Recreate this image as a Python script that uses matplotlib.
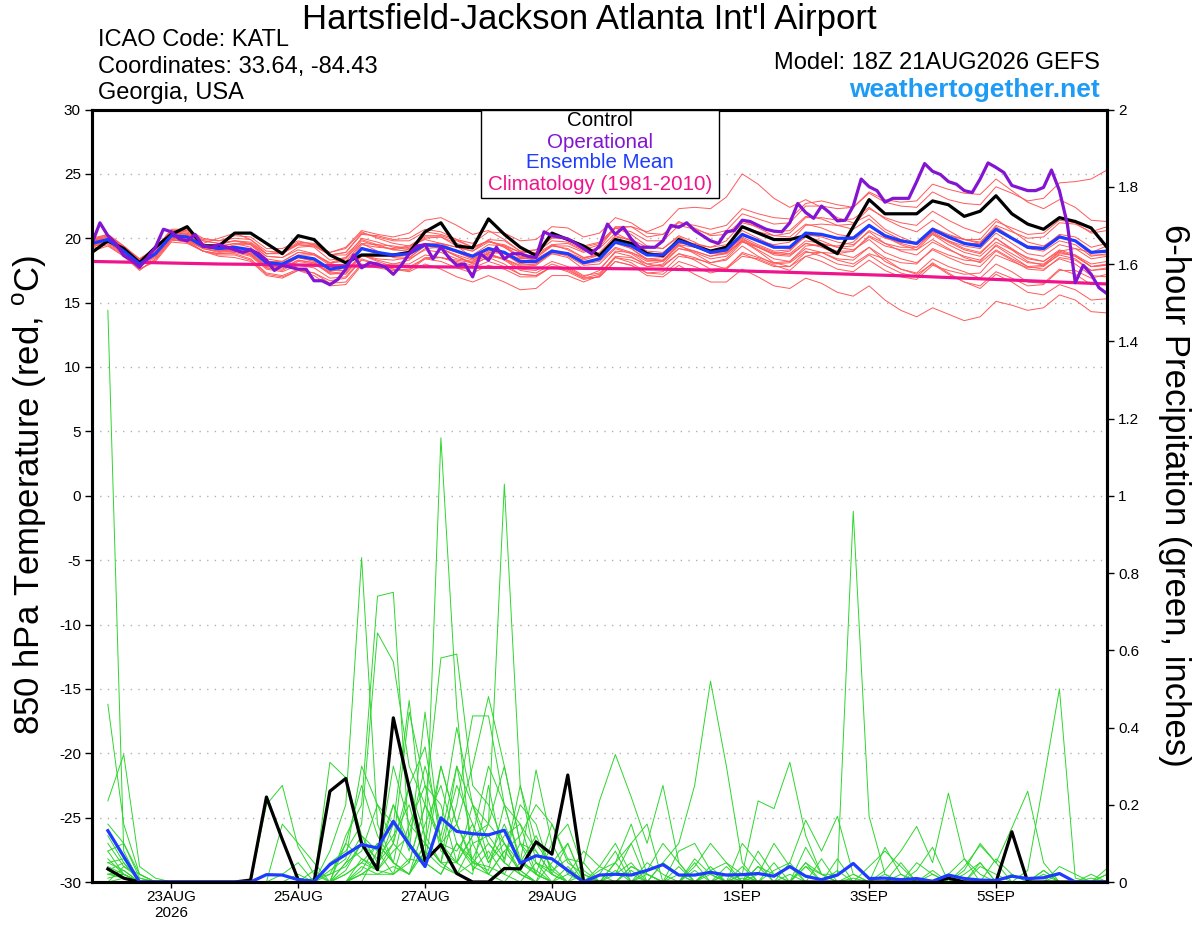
import matplotlib
matplotlib.use('Agg')
import matplotlib.pyplot as plt
from matplotlib.patches import Rectangle

plt.rcParams['font.family'] = ['Liberation Sans', 'DejaVu Sans']

# ---------------- data ----------------
hours6 = list(range(0, 385, 6))        # 6-hourly temperature steps
hours3 = list(range(0, 385, 3))        # 3-hourly operational steps
precip_hours = list(range(6, 385, 6))  # 6-hour precipitation periods
clim_hours = list(range(0, 385, 24))

date_ticks = [30, 78, 126, 174, 246, 294, 342]
date_labels = ['23AUG\n2026', '25AUG', '27AUG', '29AUG', '1SEP', '3SEP', '5SEP']

control_t = [18.9, 19.8, 19.2, 18.1, 19.3, 20.3, 20.9, 19.4, 19.4, 20.4, 20.4, 19.6, 18.8, 20.2, 19.9, 18.7,
             18.1, 18.7, 18.7, 18.7, 18.9, 20.5, 21.2, 19.4, 19.25, 21.5, 20.3, 19.3, 18.65, 20.4, 19.9, 19.4,
             18.65, 19.9, 19.6, 18.8, 18.65, 19.9, 19.4, 19.0, 19.3, 20.9, 20.4, 19.9, 19.9, 20.2, 19.5, 18.8,
             20.9, 23.0, 21.9, 21.9, 21.9, 22.9, 22.6, 21.7, 22.1, 23.3, 21.9, 21.1, 20.7, 21.6, 21.3, 20.8, 19.3]

mean_t = [19.6, 19.9, 19.0, 18.0, 18.8, 20.2, 20.1, 19.4, 19.2, 19.3, 19.1, 18.1, 18.0, 18.6, 18.4, 17.6,
          17.8, 19.2, 18.9, 18.7, 18.8, 19.5, 19.4, 19.0, 18.6, 19.2, 18.9, 18.2, 18.2, 19.0, 18.8, 18.1,
          18.4, 19.7, 19.4, 18.7, 18.7, 19.8, 19.4, 18.9, 19.1, 20.3, 19.8, 19.3, 19.3, 20.4, 20.3, 20.0,
          20.0, 21.0, 20.2, 19.8, 19.6, 20.7, 20.1, 19.6, 19.4, 20.7, 20.0, 19.3, 19.2, 20.1, 19.8, 18.9, 19.0]

oper_t = [19.6, 21.2, 20.2, 19.6, 18.65, 18.3, 17.75, 18.5, 19.3, 20.7, 20.5, 19.95, 19.8, 20.3, 19.4, 19.3,
          19.5, 19.3, 19.1, 18.9, 19.1, 18.8, 18.3, 17.5, 17.9, 17.75, 17.6, 17.6, 16.7, 16.7, 16.4, 16.8,
          17.6, 18.7, 17.7, 18.1, 18.0, 17.75, 17.2, 17.9, 18.8, 19.4, 19.5, 18.4, 19.3, 18.5, 17.9, 18.0,
          17.0, 18.8, 18.3, 19.3, 18.4, 18.8, 18.8, 18.6, 18.5, 20.5, 20.2, 20.1, 19.95, 19.6, 19.2, 18.8,
          19.4, 21.1, 20.3, 20.85, 19.95, 19.3, 19.3, 19.3, 19.8, 21.0, 20.85, 21.2, 20.6, 20.2, 19.8, 19.6,
          20.5, 20.6, 21.4, 21.3, 21.0, 20.7, 20.55, 20.5, 21.2, 22.7, 22.0, 21.55, 22.5, 22.0, 21.35, 21.4,
          22.5, 24.6, 24.0, 23.7, 22.8, 23.1, 23.1, 23.1, 24.4, 25.8, 25.2, 24.95, 24.4, 24.2, 23.7, 23.55,
          24.6, 25.85, 25.5, 25.1, 24.1, 23.9, 23.7, 23.7, 23.95, 25.3, 23.7, 21.1, 16.55, 17.9, 17.2, 16.15,
          15.7]

clim_t = [18.2, 18.1, 18.0, 17.95, 17.85, 17.8, 17.75, 17.7, 17.65, 17.6, 17.5, 17.35, 17.2, 17.05,
          16.85, 16.65, 16.45]

T01 = [19.9, 20.3, 19.4, 18.3, 19.0, 20.5, 20.4, 19.6, 20.0, 20.4, 19.9, 18.8, 18.9, 19.5, 19.3, 18.3,
       18.5, 19.6, 19.5, 19.4, 19.2, 20.0, 20.1, 19.4, 18.5, 19.3, 18.8, 18.0, 18.3, 18.8, 18.5, 17.6,
       17.6, 18.9, 18.6, 17.8, 17.9, 18.8, 18.5, 18.0, 17.6, 18.6, 18.4, 17.9, 17.5, 18.6, 18.9, 18.3,
       18.0, 18.8, 18.4, 17.6, 17.3, 18.4, 17.8, 17.4, 16.9, 18.0, 17.4, 16.6, 16.5, 17.6, 17.2, 16.4, 16.5]
T02 = [19.3, 19.7, 18.9, 17.9, 18.6, 20.1, 20.3, 19.6, 19.0, 19.2, 18.8, 17.7, 17.5, 18.2, 18.0, 17.3,
       17.2, 18.6, 18.6, 18.6, 18.5, 19.4, 19.6, 19.3, 19.0, 19.9, 19.8, 19.0, 19.1, 20.1, 19.9, 19.3,
       19.6, 20.9, 20.9, 20.1, 20.3, 21.2, 21.0, 20.7, 21.0, 22.3, 21.9, 21.6, 21.5, 22.7, 22.9, 22.6,
       22.4, 23.5, 22.8, 22.5, 22.4, 23.6, 23.0, 22.7, 22.6, 24.0, 23.5, 22.9, 23.1, 24.3, 24.4, 24.6, 25.3]
T03 = [19.0, 19.4, 18.6, 17.6, 18.2, 19.7, 19.6, 19.0, 18.6, 18.5, 18.2, 17.1, 16.9, 17.5, 17.3, 16.7,
       16.9, 18.3, 18.0, 17.6, 17.5, 18.4, 18.5, 18.3, 18.1, 18.9, 18.8, 18.4, 18.6, 19.5, 19.6, 19.0,
       19.2, 20.4, 19.8, 18.9, 18.6, 19.5, 18.8, 18.1, 18.3, 19.4, 18.6, 18.0, 18.1, 19.0, 18.6, 18.0,
       17.8, 18.7, 17.9, 17.3, 17.0, 18.1, 17.3, 16.6, 16.1, 17.2, 16.6, 15.8, 15.6, 16.4, 16.0, 15.2, 15.3]
T04 = [19.8, 20.1, 19.2, 18.2, 19.1, 20.5, 20.3, 19.5, 19.5, 19.8, 19.6, 18.6, 18.5, 19.1, 18.8, 18.0,
       18.4, 19.8, 19.4, 19.1, 19.3, 20.1, 20.1, 19.6, 19.2, 19.8, 19.4, 18.6, 18.5, 19.4, 19.4, 18.9,
       19.3, 20.8, 20.9, 20.5, 21.0, 22.3, 22.4, 22.3, 23.2, 25.0, 24.2, 23.1, 22.4, 23.0, 22.4, 21.6,
       21.2, 21.8, 20.7, 20.1, 19.6, 20.3, 19.5, 18.9, 18.6, 19.7, 19.1, 18.5, 18.2, 19.0, 18.6, 17.8, 17.9]
T05 = [19.5, 19.7, 18.8, 17.8, 18.5, 19.9, 19.8, 19.2, 19.0, 19.0, 18.7, 17.8, 17.7, 18.3, 18.1, 17.2,
       17.3, 18.7, 18.3, 18.0, 18.0, 18.7, 18.5, 18.1, 17.7, 18.2, 17.8, 17.2, 17.1, 17.8, 17.4, 16.8,
       17.0, 18.2, 17.9, 17.1, 17.0, 17.9, 17.2, 16.6, 16.6, 17.6, 17.0, 16.3, 16.1, 16.9, 16.5, 15.8,
       15.5, 16.3, 15.2, 14.4, 13.9, 14.6, 14.1, 13.6, 13.9, 15.1, 14.8, 14.4, 14.6, 15.6, 15.2, 14.3, 14.2]
T06 = [19.7, 20.0, 19.3, 18.4, 19.2, 20.6, 20.6, 19.9, 19.8, 20.2, 20.1, 19.2, 19.2, 19.8, 19.5, 18.7,
       18.7, 19.9, 19.5, 19.1, 19.0, 19.6, 19.2, 18.6, 18.0, 18.5, 18.0, 17.2, 17.1, 17.8, 17.5, 16.9,
       17.2, 18.6, 18.5, 18.0, 18.2, 19.5, 19.3, 19.0, 19.4, 20.8, 20.5, 20.2, 20.4, 21.6, 21.6, 21.4,
       21.5, 22.4, 21.5, 20.9, 20.5, 21.4, 20.6, 19.9, 19.6, 20.8, 20.0, 19.2, 19.0, 19.8, 19.5, 18.6, 18.8]
T07 = [19.4, 19.6, 18.7, 17.6, 18.3, 19.8, 19.9, 19.3, 19.1, 19.5, 19.5, 18.6, 18.5, 19.3, 19.4, 18.7,
       18.9, 20.3, 20.2, 19.9, 20.0, 20.7, 20.5, 19.9, 19.3, 19.8, 19.3, 18.5, 18.3, 19.0, 18.6, 17.9,
       18.0, 19.2, 18.8, 18.0, 17.8, 18.8, 18.3, 17.6, 17.7, 18.8, 18.3, 17.8, 17.8, 18.9, 18.9, 18.8,
       19.0, 20.2, 19.6, 19.3, 19.3, 20.5, 20.2, 19.9, 19.9, 21.3, 20.8, 20.3, 20.4, 21.4, 21.2, 20.4, 20.6]
T08 = [19.6, 19.8, 18.9, 17.9, 18.9, 20.4, 20.3, 19.5, 19.1, 19.1, 18.8, 17.8, 17.8, 18.5, 18.3, 17.5,
       17.5, 18.7, 18.2, 17.8, 17.8, 18.4, 18.2, 17.7, 17.3, 17.9, 17.6, 17.0, 17.0, 17.8, 17.7, 17.0,
       17.5, 19.0, 18.9, 18.4, 18.5, 19.7, 19.6, 19.3, 19.5, 20.6, 20.0, 19.4, 19.2, 20.1, 19.8, 19.3,
       19.1, 19.9, 18.9, 18.4, 18.1, 19.1, 18.5, 18.0, 17.8, 19.0, 18.3, 17.6, 17.5, 18.5, 18.3, 17.5, 17.7]
T09 = [19.9, 20.2, 19.3, 18.3, 19.1, 20.6, 20.5, 19.8, 19.6, 19.8, 19.7, 18.8, 18.8, 19.5, 19.4, 18.7,
       18.9, 20.4, 20.1, 19.8, 19.8, 20.5, 20.3, 19.9, 19.6, 20.5, 20.4, 19.8, 19.9, 20.9, 20.8, 20.1,
       20.4, 21.6, 21.2, 20.4, 20.3, 21.3, 20.8, 20.2, 20.3, 21.4, 20.8, 20.2, 20.1, 21.1, 20.8, 20.3,
       20.1, 21.0, 20.1, 19.6, 19.3, 20.4, 19.7, 19.1, 18.8, 20.0, 19.2, 18.4, 18.2, 19.1, 18.7, 17.8, 18.0]
T10 = [19.2, 19.5, 18.6, 17.5, 18.4, 19.9, 19.7, 19.0, 18.8, 18.8, 18.4, 17.3, 17.1, 17.6, 17.3, 16.5,
       16.6, 18.0, 17.7, 17.5, 17.6, 18.5, 18.5, 18.2, 17.9, 18.6, 18.4, 17.8, 17.9, 18.8, 18.7, 18.1,
       18.4, 19.6, 19.2, 18.4, 18.3, 19.4, 19.0, 18.6, 18.9, 20.2, 19.8, 19.5, 19.7, 21.0, 21.1, 21.0,
       21.1, 22.3, 21.6, 21.2, 21.0, 22.1, 21.4, 20.8, 20.4, 21.5, 20.6, 19.7, 19.4, 20.2, 19.8, 18.7, 18.7]
T11 = [19.6, 20.0, 19.1, 18.0, 18.7, 20.0, 19.9, 19.3, 19.3, 19.6, 19.6, 18.8, 18.9, 19.7, 19.6, 18.9,
       19.2, 20.5, 20.0, 19.6, 19.4, 19.9, 19.6, 19.0, 18.4, 18.8, 18.3, 17.5, 17.3, 18.0, 17.6, 16.9,
       17.0, 18.2, 17.9, 17.3, 17.4, 18.6, 18.4, 18.1, 18.4, 19.7, 19.3, 18.8, 18.7, 19.6, 19.3, 18.8,
       18.5, 19.3, 18.2, 17.6, 17.2, 18.0, 17.2, 16.6, 16.3, 17.4, 16.9, 16.3, 16.4, 17.5, 17.5, 16.9, 17.2]
T12 = [19.8, 19.9, 18.9, 17.9, 18.9, 20.4, 20.2, 19.4, 19.2, 19.2, 18.9, 17.9, 17.8, 18.5, 18.3, 17.6,
       18.0, 19.5, 19.3, 19.2, 19.4, 20.2, 20.2, 19.8, 19.3, 19.8, 19.3, 18.5, 18.4, 19.1, 18.8, 18.0,
       18.2, 19.3, 18.9, 18.2, 18.3, 19.6, 19.5, 19.3, 19.8, 21.2, 20.9, 20.5, 20.6, 21.7, 21.5, 21.0,
       20.7, 21.5, 20.5, 19.9, 19.6, 20.6, 20.0, 19.6, 19.6, 21.0, 20.5, 20.0, 20.1, 21.2, 21.1, 20.5, 20.9]
T13 = [19.3, 19.8, 19.0, 18.1, 18.8, 20.1, 19.8, 19.0, 18.7, 18.7, 18.3, 17.2, 17.0, 17.5, 17.1, 16.3,
       16.4, 17.9, 17.9, 18.0, 18.3, 19.2, 19.3, 19.0, 18.7, 19.5, 19.4, 18.9, 19.1, 20.0, 20.0, 19.4,
       19.7, 20.8, 20.3, 19.4, 19.2, 20.1, 19.5, 18.8, 18.8, 19.8, 19.1, 18.4, 18.2, 19.2, 18.9, 18.4,
       18.3, 19.3, 18.5, 18.1, 18.0, 19.2, 18.7, 18.3, 18.2, 19.5, 18.8, 18.1, 18.0, 18.9, 18.6, 17.8, 17.9]
T14 = [19.5, 19.8, 19.0, 18.0, 18.6, 19.9, 19.7, 19.0, 18.8, 18.9, 18.6, 17.6, 17.4, 17.9, 17.7, 16.9,
       17.0, 18.4, 18.0, 17.6, 17.4, 18.0, 17.6, 17.0, 16.6, 17.1, 16.6, 16.0, 16.1, 17.1, 17.1, 16.6,
       17.1, 18.5, 18.3, 17.8, 18.0, 19.2, 19.0, 18.6, 18.8, 19.9, 19.4, 18.9, 18.8, 19.8, 19.6, 19.3,
       19.4, 20.6, 20.0, 19.7, 19.6, 20.8, 20.3, 19.9, 19.7, 20.9, 20.1, 19.4, 19.3, 20.3, 20.1, 19.3, 19.6]
T15 = [20.0, 20.3, 19.4, 18.4, 19.2, 20.7, 20.7, 20.0, 19.8, 20.0, 19.9, 19.0, 18.9, 19.6, 19.5, 18.9,
       19.3, 20.6, 20.3, 20.1, 20.4, 21.4, 21.6, 21.0, 20.3, 20.6, 19.9, 19.0, 18.8, 19.5, 19.1, 18.5,
       18.7, 19.9, 19.5, 18.8, 18.8, 19.9, 19.5, 19.0, 19.0, 20.0, 19.3, 18.7, 18.6, 19.6, 19.4, 19.0,
       19.0, 20.1, 19.4, 19.1, 19.1, 20.3, 19.8, 19.4, 19.2, 20.4, 19.6, 18.8, 18.6, 19.5, 19.2, 18.4, 18.6]
T16 = [19.7, 20.1, 19.1, 18.1, 18.9, 20.3, 20.0, 19.2, 18.9, 19.0, 18.7, 17.7, 17.6, 18.3, 18.1, 17.4,
       17.7, 19.2, 18.9, 18.7, 18.8, 19.6, 19.6, 19.3, 19.0, 19.7, 19.5, 18.9, 18.9, 19.8, 19.7, 19.1,
       19.5, 20.8, 20.5, 19.8, 19.8, 21.0, 20.7, 20.3, 20.6, 21.9, 21.5, 21.1, 21.2, 22.5, 22.5, 22.3,
       22.4, 23.6, 23.0, 22.8, 22.9, 24.2, 23.8, 23.5, 23.4, 24.6, 23.7, 22.8, 22.3, 23.0, 22.4, 21.4, 21.3]
T17 = [19.4, 19.9, 19.1, 18.1, 18.7, 20.0, 19.9, 19.2, 19.0, 19.1, 18.8, 17.8, 17.9, 18.7, 18.7, 18.1,
       18.5, 20.0, 19.7, 19.3, 19.1, 19.6, 19.2, 18.6, 18.1, 18.7, 18.4, 17.9, 18.0, 18.9, 18.8, 18.3,
       18.7, 20.1, 19.9, 19.3, 19.2, 20.2, 19.7, 19.0, 18.9, 19.8, 19.0, 18.1, 17.8, 18.6, 18.2, 17.6,
       17.4, 18.3, 17.5, 17.0, 16.8, 17.9, 17.5, 17.2, 17.3, 18.7, 18.2, 17.7, 17.8, 18.8, 18.7, 18.0, 18.2]
T18 = [19.8, 20.2, 19.2, 18.1, 18.8, 20.1, 20.0, 19.4, 19.2, 19.3, 19.1, 18.2, 18.2, 18.9, 18.7, 17.9,
       18.0, 19.3, 18.9, 18.6, 18.7, 19.4, 19.2, 18.7, 18.3, 18.8, 18.4, 17.6, 17.5, 18.2, 17.8, 17.1,
       17.3, 18.5, 18.1, 17.3, 17.2, 18.2, 17.8, 17.3, 17.6, 18.9, 18.5, 18.1, 18.2, 19.4, 19.5, 19.4,
       19.7, 20.9, 20.2, 19.8, 19.5, 20.5, 19.8, 19.2, 18.9, 20.0, 19.1, 18.2, 17.9, 18.7, 18.4, 17.5, 17.6]
T19 = [19.5, 19.8, 19.0, 18.0, 18.9, 20.3, 20.1, 19.4, 19.4, 19.6, 19.3, 18.2, 18.0, 18.5, 18.2, 17.3,
       17.4, 18.7, 18.4, 18.3, 18.5, 19.4, 19.3, 18.9, 18.4, 19.1, 18.8, 18.0, 18.0, 18.9, 18.9, 18.4,
       18.9, 20.2, 19.8, 19.0, 18.9, 19.9, 19.4, 18.8, 19.0, 20.1, 19.5, 19.0, 19.1, 20.3, 20.1, 19.7,
       19.5, 20.5, 19.6, 19.0, 18.7, 19.7, 19.1, 18.6, 18.3, 19.4, 18.6, 17.8, 17.6, 18.4, 18.0, 17.1, 17.0]
T20 = [19.6, 19.7, 18.8, 17.8, 18.7, 20.3, 20.4, 19.8, 19.6, 19.8, 19.5, 18.4, 18.2, 18.9, 18.8, 18.1,
       18.2, 19.6, 19.0, 18.5, 18.4, 19.1, 18.9, 18.4, 18.2, 19.0, 18.9, 18.4, 18.5, 19.4, 19.2, 18.5,
       18.7, 19.8, 19.2, 18.3, 18.2, 19.2, 18.9, 18.4, 18.6, 19.8, 19.3, 18.8, 19.0, 20.2, 20.2, 20.0,
       20.0, 21.0, 20.1, 19.5, 19.1, 19.9, 19.2, 18.5, 18.1, 19.1, 18.4, 17.8, 17.9, 19.0, 19.2, 18.9, 19.4]

control_p = [0.034, 0.01, 0, 0, 0, 0, 0, 0, 0, 0.005, 0.22, 0.11, 0.006, 0, 0.235, 0.268,
             0.10, 0.032, 0.425, 0.243, 0.055, 0.097, 0.022, 0, 0, 0.035, 0.034, 0.104, 0.072, 0.277, 0, 0,
             0, 0, 0, 0, 0, 0, 0, 0, 0, 0, 0, 0, 0, 0, 0, 0,
             0, 0, 0, 0, 0, 0.01, 0, 0, 0, 0.13, 0, 0, 0, 0, 0, 0]

mean_p = [0.133, 0.066, 0, 0, 0, 0, 0, 0, 0, 0, 0.019, 0.018, 0.006, 0.002, 0.045, 0.071,
          0.097, 0.088, 0.157, 0.097, 0.04, 0.166, 0.131, 0.125, 0.122, 0.134, 0.049, 0.068, 0.06, 0.03, 0, 0.018,
          0.02, 0.018, 0.03, 0.045, 0.018, 0.018, 0.025, 0.018, 0.019, 0.022, 0.015, 0.04, 0.015, 0.006, 0.018, 0.048,
          0.009, 0.01, 0.006, 0.009, 0.002, 0.018, 0.009, 0.005, 0.004, 0.015, 0.009, 0.011, 0.022, 0, 0, 0]

P01 = [1.48, 0.08, 0, 0, 0, 0, 0, 0, 0, 0, 0, 0.02, 0.05, 0, 0, 0.03,
       0.10, 0.06, 0.12, 0.20, 0.05, 0.02, 0.10, 0.04, 0.02, 0.08, 0.03, 0, 0.05, 0.10, 0, 0,
       0.02, 0.05, 0, 0, 0.04, 0, 0, 0.02, 0, 0, 0.03, 0.05, 0, 0, 0, 0,
       0, 0, 0.02, 0, 0, 0, 0, 0, 0, 0, 0, 0, 0, 0, 0.01, 0]
P02 = [0.46, 0.15, 0.02, 0, 0, 0, 0, 0, 0, 0, 0, 0, 0, 0, 0.08, 0.20,
       0.84, 0.15, 0.05, 0.02, 0.10, 0.30, 0.15, 0.05, 0.10, 0.05, 0.02, 0, 0, 0, 0, 0,
       0, 0, 0.03, 0.10, 0.05, 0, 0, 0, 0.02, 0, 0, 0, 0.05, 0, 0, 0,
       0, 0, 0, 0, 0, 0.02, 0.06, 0, 0, 0, 0, 0.03, 0, 0, 0, 0]
P03 = [0.21, 0.33, 0.04, 0.01, 0, 0, 0, 0, 0, 0, 0, 0, 0, 0.03, 0, 0.05,
       0.12, 0.08, 0.20, 0.10, 0.05, 1.15, 0.45, 0.03, 0.08, 0.02, 0, 0.05, 0, 0, 0, 0.02,
       0.08, 0, 0, 0, 0, 0, 0.03, 0, 0, 0.04, 0, 0.02, 0, 0, 0, 0,
       0, 0, 0, 0, 0.03, 0, 0, 0.05, 0, 0, 0, 0, 0, 0, 0, 0]
P04 = [0.15, 0.10, 0.02, 0, 0, 0, 0, 0, 0, 0, 0.20, 0.25, 0.09, 0.02, 0, 0.10,
       0.06, 0.03, 0.02, 0.15, 0.25, 0.08, 0.05, 0.12, 0.15, 1.03, 0.25, 0.05, 0.02, 0.10, 0, 0,
       0, 0.04, 0.02, 0, 0, 0, 0, 0, 0, 0, 0, 0, 0, 0.06, 0, 0,
       0, 0, 0, 0, 0.02, 0, 0, 0, 0, 0, 0, 0, 0, 0, 0, 0.02]
P05 = [0.12, 0.05, 0, 0, 0, 0, 0, 0, 0, 0, 0, 0, 0, 0, 0, 0.12,
       0.20, 0.74, 0.75, 0.10, 0.05, 0.30, 0.15, 0.06, 0.15, 0.30, 0.10, 0.02, 0, 0, 0.05, 0,
       0, 0, 0, 0.05, 0.02, 0, 0.04, 0, 0, 0, 0, 0, 0, 0, 0.03, 0,
       0, 0, 0, 0, 0, 0, 0, 0, 0, 0, 0, 0, 0.02, 0, 0, 0]
P06 = [0.10, 0.04, 0.01, 0, 0, 0, 0, 0, 0, 0, 0, 0, 0, 0, 0.05, 0.08,
       0.15, 0.645, 0.57, 0.30, 0.20, 0.58, 0.59, 0.25, 0.20, 0.10, 0.05, 0.03, 0, 0, 0, 0,
       0.05, 0, 0, 0, 0.02, 0, 0, 0, 0, 0, 0, 0, 0, 0, 0, 0,
       0, 0, 0.05, 0, 0, 0, 0, 0.04, 0.02, 0, 0, 0, 0, 0, 0, 0]
P07 = [0.08, 0.02, 0, 0, 0, 0, 0, 0, 0, 0, 0, 0, 0, 0, 0.31, 0.27,
       0.12, 0.05, 0.20, 0.08, 0.44, 0.10, 0.25, 0.15, 0.05, 0.10, 0.03, 0, 0, 0.04, 0, 0.02,
       0, 0, 0, 0.05, 0.10, 0.25, 0.52, 0.30, 0.05, 0, 0, 0, 0, 0, 0, 0,
       0, 0, 0, 0, 0, 0, 0.02, 0.05, 0, 0, 0, 0, 0, 0, 0, 0]
P08 = [0.06, 0.02, 0, 0, 0, 0, 0, 0, 0, 0, 0, 0, 0, 0, 0, 0.02,
       0.05, 0.10, 0.05, 0.25, 0.12, 0.05, 0.02, 0.10, 0.12, 0.06, 0.20, 0.15, 0.02, 0, 0, 0,
       0.03, 0, 0, 0, 0, 0.05, 0, 0, 0, 0.04, 0.02, 0, 0.05, 0.02, 0.02, 0.96,
       0.17, 0.02, 0, 0, 0, 0, 0, 0, 0, 0, 0, 0, 0, 0, 0, 0]
P09 = [0.05, 0.03, 0, 0, 0, 0, 0, 0, 0, 0, 0, 0, 0, 0, 0, 0,
       0.02, 0.05, 0.30, 0.15, 0.10, 0.05, 0.30, 0.20, 0.06, 0.15, 0.05, 0.29, 0.10, 0.02, 0, 0,
       0, 0, 0.02, 0, 0, 0, 0.03, 0, 0, 0, 0, 0, 0, 0, 0, 0,
       0, 0, 0, 0, 0, 0, 0.03, 0.10, 0.05, 0.14, 0.235, 0.05, 0, 0, 0, 0]
P10 = [0.04, 0.02, 0, 0, 0, 0, 0, 0, 0, 0, 0, 0, 0, 0, 0.03, 0.06,
       0.30, 0.20, 0.10, 0.44, 0.25, 0.20, 0.05, 0.02, 0.25, 0.05, 0.02, 0, 0.10, 0.15, 0.03, 0,
       0.05, 0.10, 0, 0, 0, 0, 0, 0.04, 0, 0, 0.05, 0, 0, 0, 0, 0,
       0, 0, 0, 0, 0, 0, 0, 0, 0, 0, 0.03, 0.26, 0.50, 0.01, 0, 0]
P11 = [0.03, 0.05, 0, 0, 0, 0, 0, 0, 0, 0, 0, 0, 0, 0, 0, 0.05,
       0.08, 0.20, 0.15, 0.47, 0.10, 0.05, 0.20, 0.43, 0.43, 0.20, 0.05, 0.02, 0, 0, 0, 0.03,
       0.05, 0.15, 0.02, 0, 0, 0, 0, 0, 0.04, 0, 0, 0, 0, 0, 0, 0,
       0, 0.02, 0, 0.05, 0.02, 0, 0, 0, 0, 0, 0, 0, 0, 0, 0, 0]
P12 = [0.02, 0.03, 0, 0, 0, 0, 0, 0, 0, 0, 0, 0, 0, 0.01, 0.02, 0.04,
       0.10, 0.03, 0.10, 0.05, 0.20, 0.10, 0.15, 0.30, 0.48, 0.30, 0.10, 0.05, 0.03, 0.06, 0.05, 0.21,
       0.33, 0.22, 0.10, 0.25, 0.05, 0, 0, 0, 0.02, 0, 0, 0, 0.04, 0, 0, 0,
       0, 0, 0, 0, 0, 0, 0, 0, 0, 0, 0, 0.02, 0, 0, 0, 0]
P13 = [0.02, 0.01, 0, 0, 0, 0, 0, 0, 0, 0, 0, 0.15, 0.10, 0.05, 0, 0,
       0.03, 0.10, 0.05, 0.02, 0.15, 0.25, 0.10, 0.05, 0.03, 0.20, 0.15, 0.08, 0.02, 0, 0, 0,
       0, 0.04, 0.02, 0, 0.08, 0.10, 0.03, 0.05, 0.02, 0.21, 0.19, 0.31, 0.12, 0.02, 0, 0,
       0, 0, 0, 0, 0, 0, 0, 0, 0, 0, 0, 0, 0, 0, 0, 0]
P14 = [0.01, 0.02, 0, 0, 0, 0, 0, 0, 0, 0, 0, 0, 0, 0, 0, 0.02,
       0.05, 0.03, 0.08, 0.12, 0.30, 0.15, 0.40, 0.20, 0.10, 0.05, 0.25, 0.10, 0.04, 0, 0, 0,
       0, 0, 0.05, 0.02, 0, 0.03, 0, 0, 0, 0, 0, 0.05, 0.16, 0.08, 0.17, 0.02,
       0, 0.03, 0.08, 0.144, 0.05, 0.23, 0.06, 0.02, 0, 0.02, 0, 0, 0, 0, 0, 0.035]
P15 = [0, 0.04, 0.02, 0, 0, 0, 0, 0, 0, 0, 0, 0, 0, 0, 0, 0,
       0.02, 0.05, 0.10, 0.25, 0.35, 0.10, 0.08, 0.15, 0.05, 0.12, 0.15, 0.02, 0.15, 0.06, 0, 0,
       0, 0.03, 0, 0, 0, 0.04, 0.10, 0.05, 0, 0.08, 0.02, 0, 0, 0, 0, 0.02,
       0, 0.09, 0.02, 0, 0, 0, 0.04, 0.095, 0.05, 0, 0, 0.03, 0, 0, 0.02, 0]
P16 = [0.08, 0.10, 0.01, 0, 0, 0, 0, 0, 0, 0, 0, 0, 0, 0, 0, 0,
       0, 0.08, 0.02, 0.05, 0.20, 0.12, 0.30, 0.10, 0.02, 0, 0.05, 0.12, 0.03, 0, 0.02, 0,
       0, 0, 0, 0, 0, 0, 0.02, 0, 0.10, 0.05, 0, 0, 0, 0, 0.06, 0,
       0, 0, 0, 0, 0, 0, 0, 0, 0, 0, 0, 0, 0, 0, 0, 0]
P17 = [0.05, 0.06, 0, 0, 0, 0, 0, 0, 0, 0, 0, 0, 0, 0, 0.02, 0.10,
       0.25, 0.12, 0.05, 0.02, 0.10, 0.05, 0.05, 0.20, 0.15, 0.10, 0.02, 0, 0, 0.02, 0.08, 0.04,
       0.02, 0.10, 0.15, 0, 0, 0, 0, 0, 0, 0.02, 0.10, 0.04, 0, 0, 0, 0,
       0, 0, 0, 0.03, 0.09, 0, 0, 0, 0, 0, 0, 0, 0, 0, 0, 0]
P18 = [0.03, 0.01, 0, 0, 0, 0, 0, 0, 0, 0, 0, 0, 0, 0, 0, 0,
       0.06, 0.04, 0.15, 0.10, 0.05, 0.10, 0.05, 0.12, 0.30, 0.20, 0.06, 0.02, 0, 0, 0, 0.04,
       0.10, 0.02, 0, 0, 0, 0.06, 0.02, 0, 0.01, 0, 0, 0, 0.09, 0.02, 0, 0,
       0, 0, 0, 0, 0, 0.02, 0, 0, 0.06, 0.02, 0, 0, 0.04, 0.02, 0, 0]
P19 = [0.02, 0.02, 0, 0, 0, 0, 0, 0, 0, 0, 0, 0, 0.02, 0, 0, 0,
       0.04, 0.02, 0.02, 0.06, 0.05, 0.02, 0.10, 0.06, 0.02, 0.08, 0.12, 0.20, 0.15, 0.05, 0.02, 0,
       0, 0, 0, 0, 0, 0, 0, 0.02, 0.02, 0, 0, 0, 0, 0, 0, 0.01,
       0, 0, 0, 0, 0, 0.02, 0, 0, 0, 0, 0, 0, 0, 0, 0, 0]
P20 = [0, 0.01, 0, 0, 0, 0, 0, 0, 0, 0, 0, 0, 0, 0, 0, 0,
       0.02, 0.02, 0.04, 0.02, 0.08, 0.04, 0.02, 0.05, 0.04, 0.02, 0.10, 0.08, 0.02, 0, 0, 0,
       0, 0, 0, 0, 0, 0, 0, 0, 0, 0, 0, 0, 0.04, 0.02, 0, 0,
       0.04, 0.08, 0.04, 0, 0, 0, 0, 0, 0, 0, 0, 0, 0, 0, 0, 0.02]

temp_members = [T01, T02, T03, T04, T05, T06, T07, T08, T09, T10,
                T11, T12, T13, T14, T15, T16, T17, T18, T19, T20]
precip_members = [P01, P02, P03, P04, P05, P06, P07, P08, P09, P10,
                  P11, P12, P13, P14, P15, P16, P17, P18, P19, P20]

# ---------------- colours ----------------
C_RED = '#ff5a5a'
C_GREEN = '#2ed62e'
C_OPER = '#8214d2'
C_MEAN = '#1e3cff'
C_CLIM = '#f0148c'
C_WEB = '#1e9bf5'

W, H = 1200, 927
fig = plt.figure(figsize=(W / 100, H / 100), dpi=100)
ax = fig.add_axes([92 / W, 1 - 882 / H, 1015 / W, 772.5 / H])
ax2 = ax.twinx()

# temperature
for m in temp_members:
    ax.plot(hours6, m, color=C_RED, lw=0.7, zorder=2)
ax.plot(clim_hours, clim_t, color=C_CLIM, lw=2.3, zorder=3)
ax.plot(hours6, control_t, color='black', lw=2.3, zorder=4)
ax.plot(hours6, mean_t, color=C_MEAN, lw=2.3, zorder=5)
ax.plot(hours3, oper_t, color=C_OPER, lw=2.3, zorder=6)

ax.set_xlim(0, 384)
ax.set_ylim(-30, 30)
ax.set_yticks(range(-30, 31, 5))
ax.set_yticklabels([str(v) for v in range(-30, 31, 5)], fontsize=11)
for v in range(-25, 30, 5):
    ax.axhline(v, color='#b0b0b0', lw=1.0, ls=(0, (1, 4.5)), zorder=1)
ax.set_xticks(date_ticks)
ax.set_xticklabels(date_labels, fontsize=11, linespacing=1.15)
ax.tick_params(axis='x', direction='out', length=4, width=1, pad=2)
ax.tick_params(axis='y', direction='out', length=5, width=1, pad=3)

# precipitation
for m in precip_members:
    ax2.plot(precip_hours, m, color=C_GREEN, lw=0.7, zorder=2)
ax2.plot(precip_hours, control_p, color='black', lw=2.3, zorder=3)
ax2.plot(precip_hours, mean_p, color=C_MEAN, lw=2.3, zorder=4)
ax2.set_ylim(0, 2)
pt = [0, 0.2, 0.4, 0.6, 0.8, 1, 1.2, 1.4, 1.6, 1.8, 2]
ax2.set_yticks(pt)
ax2.set_yticklabels(['0', '0.2', '0.4', '0.6', '0.8', '1', '1.2', '1.4', '1.6', '1.8', '2'], fontsize=11)
ax2.tick_params(axis='y', direction='out', length=5, width=1, pad=3)

for a in (ax, ax2):
    for s in a.spines.values():
        s.set_linewidth(2.2)
        s.set_zorder(10)

# axis titles
fig.text(30 / W, 1 - 495 / H, '850 hPa Temperature (red, $^\\mathregular{o}$C)', rotation=90,
         ha='center', va='center', fontsize=25)
fig.text(1175 / W, 1 - 495 / H, '6-hour Precipitation (green, inches)', rotation=-90,
         ha='center', va='center', fontsize=25)

# texts
fig.text(589 / W, 1 - 19.5 / H, "Hartsfield-Jackson Atlanta Int'l Airport", ha='center', va='center', fontsize=25)
fig.text(98 / W, 1 - 40 / H, 'ICAO Code: KATL', ha='left', va='center', fontsize=17)
fig.text(98 / W, 1 - 67 / H, 'Coordinates: 33.64, -84.43', ha='left', va='center', fontsize=17)
fig.text(98 / W, 1 - 93 / H, 'Georgia, USA', ha='left', va='center', fontsize=17)
fig.text(1100 / W, 1 - 63 / H, 'Model: 18Z 21AUG2026 GEFS', ha='right', va='center', fontsize=17)
fig.text(1100 / W, 1 - 90 / H, 'weathertogether.net', ha='right', va='center', fontsize=19,
         fontweight='bold', color=C_WEB)

# legend box
box = Rectangle((481 / W, 1 - 198 / H), 238 / W, 88 / H, transform=fig.transFigure,
                facecolor='white', edgecolor='black', lw=1.0, zorder=20)
fig.add_artist(box)
leg_items = [('Control', 'black', 121), ('Operational', C_OPER, 142),
             ('Ensemble Mean', C_MEAN, 163), ('Climatology (1981-2010)', C_CLIM, 185)]
for txt, col, yy in leg_items:
    fig.text(600 / W, 1 - yy / H, txt, ha='center', va='center', fontsize=14.8, color=col, zorder=21)

fig.savefig('out.png', dpi=100)
